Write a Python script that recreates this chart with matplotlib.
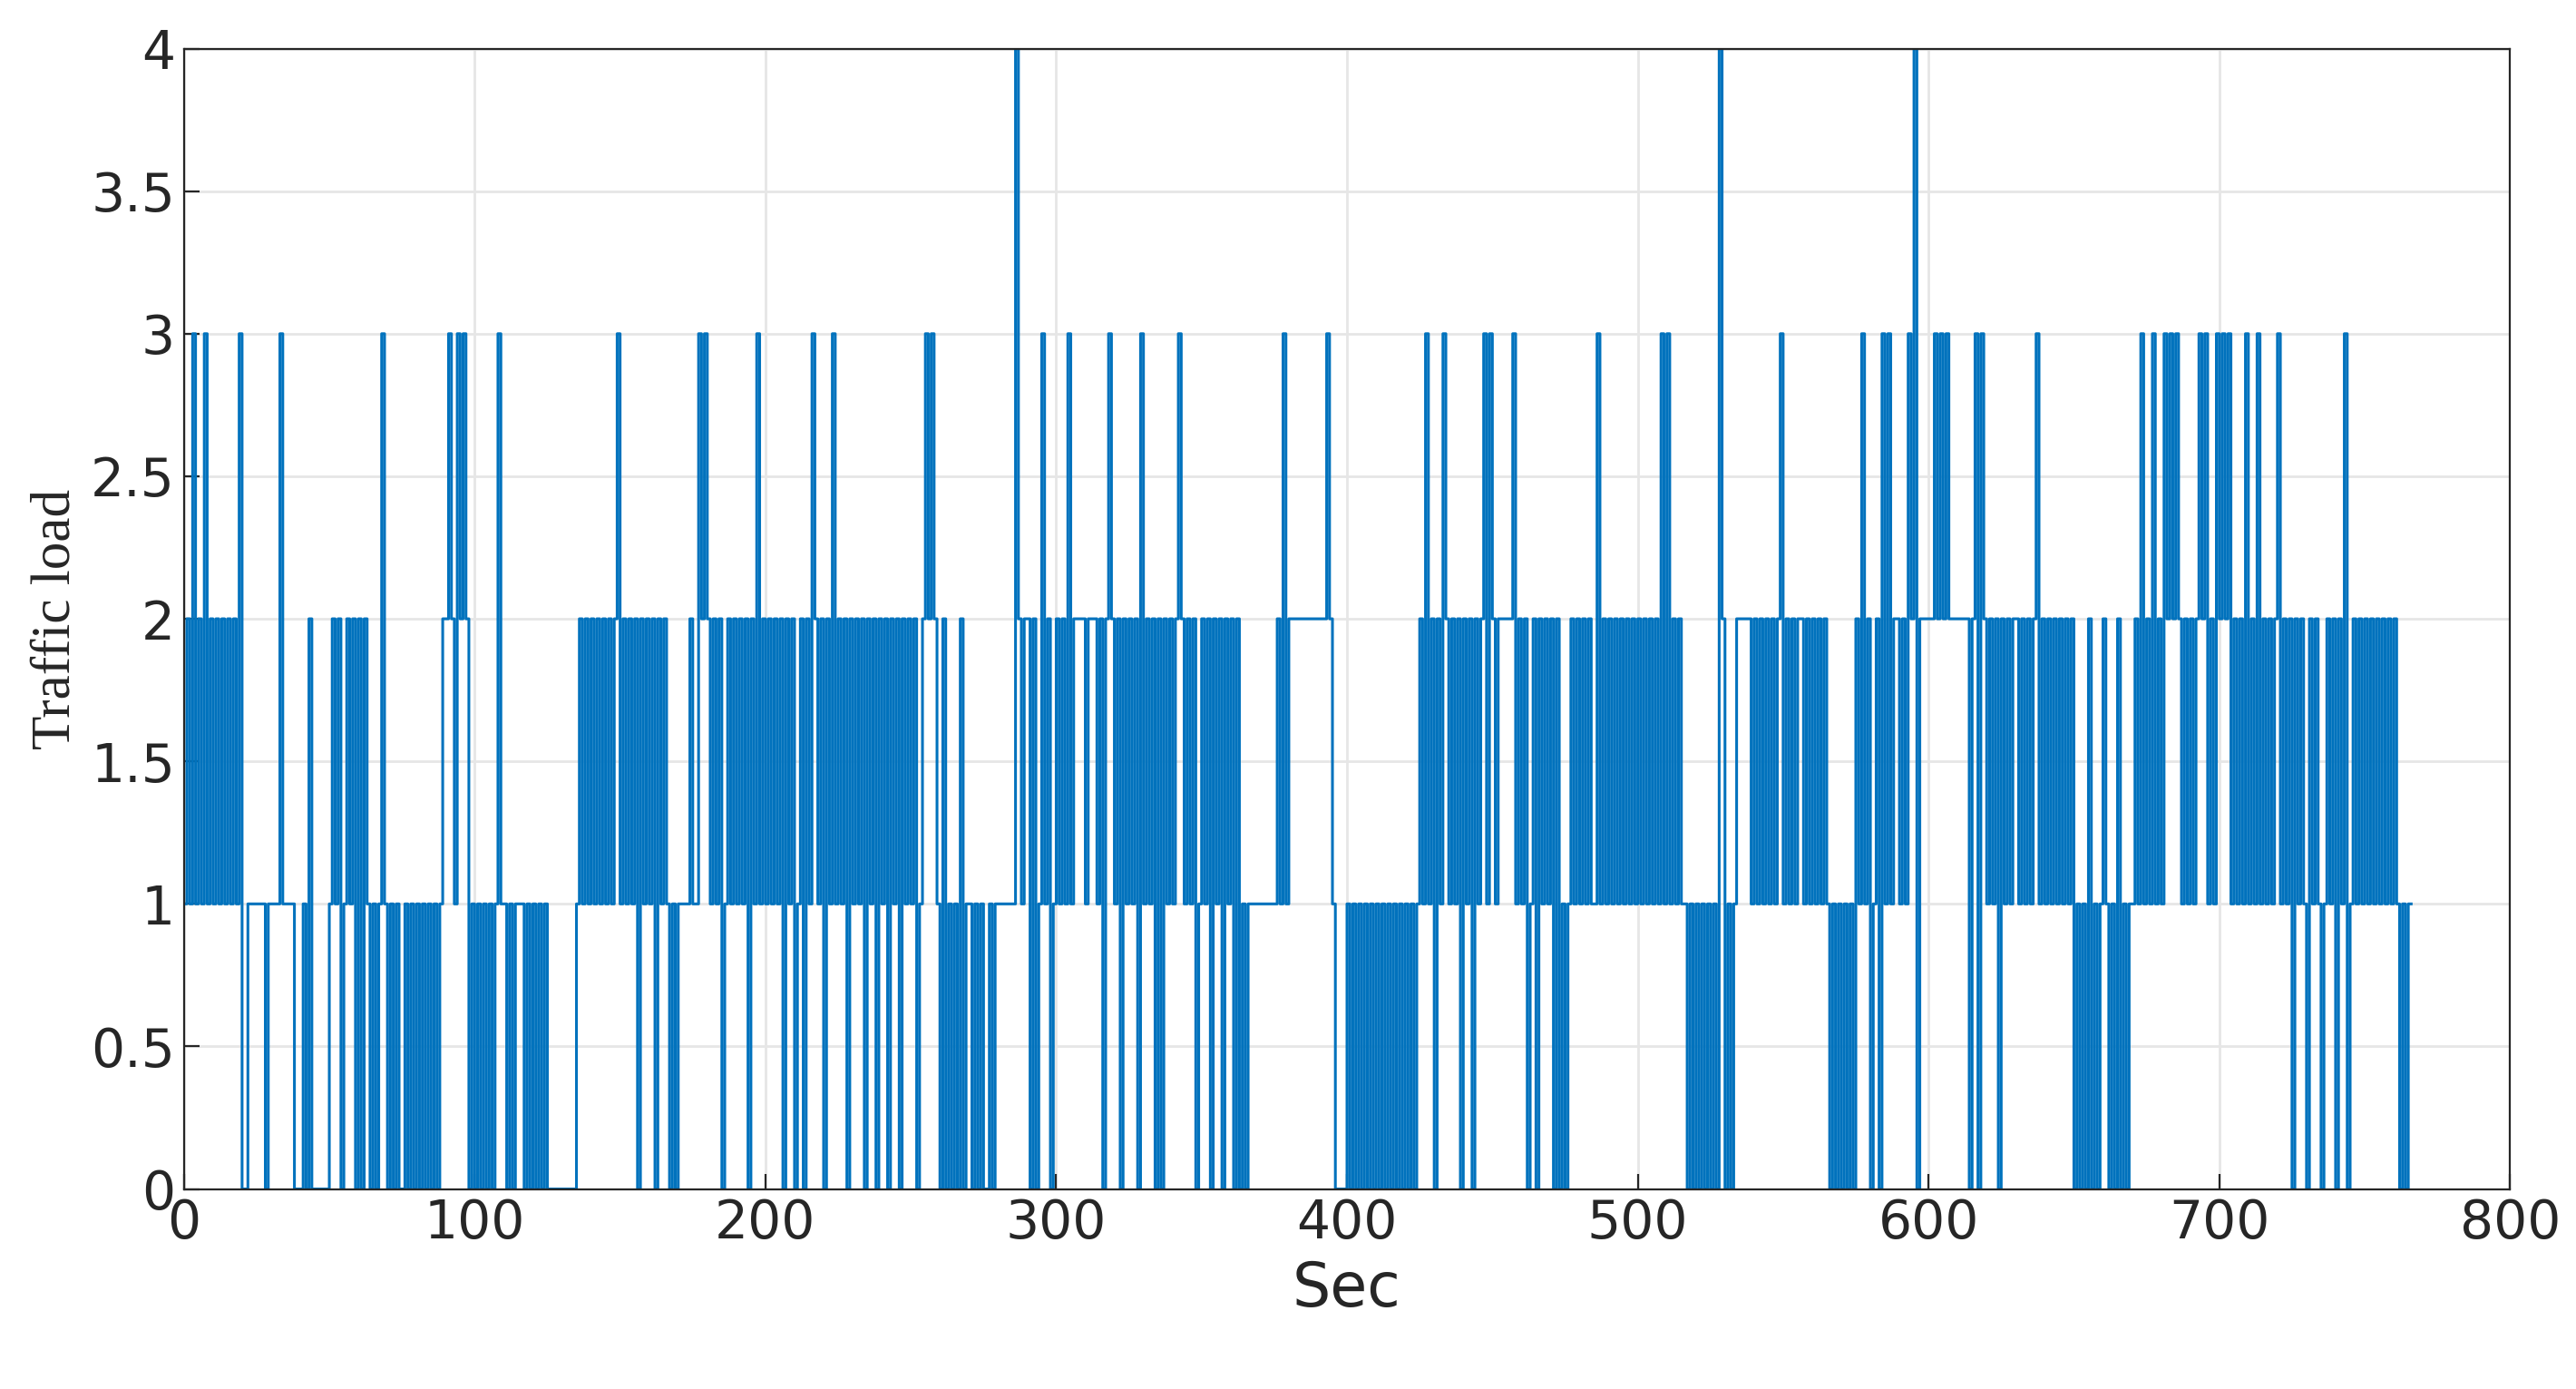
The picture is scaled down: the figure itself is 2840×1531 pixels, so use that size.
import matplotlib.pyplot as plt
import numpy as np

# traffic load per second (one digit per second)
load_rows = [
    "12131213121212121213" "00111111011113111100" "0102000000",
    "1212012120" "2021010131" "0101001010" "1010101012" "2321323201",
    "0101010131" "1010111010" "1010100000" "0000012121" "2121212123",
    "1212120212" "1202121010" "1111211323" "2121201212" "1212021312",
    "1212120212" "0120213212" "0213121202" "1212021202" "1202120212",
    "1201232321" "0201010201" "1010100101" "1111114212" "2020131201",
    "2121312222" "1222120232" "1202121203" "1212020212" "1232121201",
    "2120212021" "2020101111" "1111112131" "2222222222" "2223210000",
    "1010101010" "1010101010" "1010121312" "0213212120" "2120212313",
    "2122222312" "1201202121" "2020101212" "1212113121" "2121212121",
    "2121212131" "3121211010" "1010101042" "0101222221" "2121212123",
    "1212122121" "2121210101" "0101021312" "0120313122" "1213240222",
    "2232323222" "2222023032" "1212021212" "2121212312" "1212121212",
    "0101020101" "2101020101" "1213121312" "1323232121" "2123231213",
    "2323121213" "1213121212" "3121202121" "0212101212" "0213012121",
    "2121212121210101",
]
load = [int(c) for c in "".join(load_rows)] + [1]
sec = np.arange(len(load))

fig = plt.figure(figsize=(14.2, 7.655), dpi=200)
ax = fig.add_axes([0.0714, 0.144, 0.903, 0.821])
ax.plot(sec, load, drawstyle='steps-post', color='#0072BD', linewidth=1.1)

ax.set_xlim(0, 800)
ax.set_ylim(0, 4)
ax.set_xticks(np.arange(0, 801, 100))
ax.set_yticks(np.arange(0, 4.01, 0.5))
ax.set_yticklabels(['0', '0.5', '1', '1.5', '2', '2.5', '3', '3.5', '4'])
ax.tick_params(labelsize=21, direction='in', length=6, colors='#262626')
ax.grid(True, color='#e6e6e6', linewidth=1)
for s in ax.spines.values():
    s.set_color('#262626')
    s.set_linewidth(0.8)

ax.set_xlabel('Sec', fontsize=24, color='#262626')
ax.set_ylabel('Traffic load', fontsize=22, family='Liberation Serif', color='#262626')

plt.savefig('out.png', dpi=200)
plt.close()
